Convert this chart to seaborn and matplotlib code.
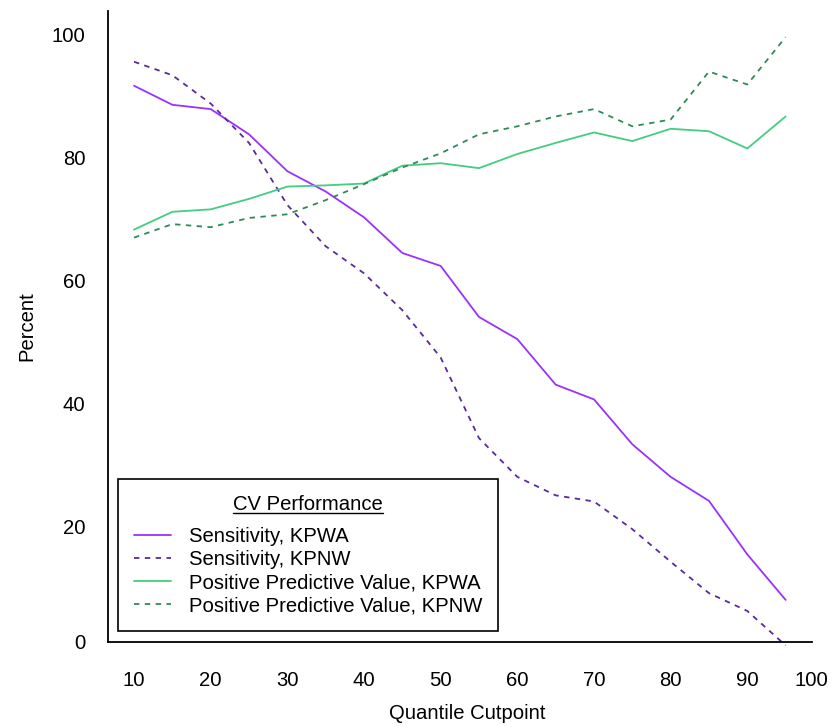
import matplotlib
matplotlib.use("Agg")
import matplotlib.pyplot as plt
import numpy as np
import pandas as pd
import seaborn as sns
from matplotlib.lines import Line2D

# ---- data ----
cutpoints = [10, 15, 20, 25, 30, 35, 40, 45, 50, 55, 60, 65, 70, 75, 80, 85, 90, 95]
sens_kpwa = [91.6, 88.5, 87.8, 83.7, 77.7, 74.4, 70.2, 64.4, 62.3, 54.0, 50.4, 43.0,
             40.6, 33.3, 28.0, 24.1, 15.4, 8.0]
sens_kpnw = [95.5, 93.3, 88.7, 82.3, 72.2, 65.5, 61.1, 55.1, 47.4, 34.3, 28.0, 25.0,
             24.0, 19.5, 14.2, 9.1, 6.2, 0.6]
ppv_kpwa = [68.2, 71.1, 71.5, 73.2, 75.2, 75.4, 75.7, 78.6, 79.0, 78.2, 80.5, 82.3,
            84.0, 82.6, 84.6, 84.2, 81.4, 86.6]
ppv_kpnw = [66.9, 69.1, 68.6, 70.1, 70.7, 73.0, 75.6, 78.3, 80.6, 83.7, 85.0, 86.6,
            87.8, 85.0, 86.1, 93.9, 91.8, 99.5]

series_names = ["Sensitivity, KPWA", "Sensitivity, KPNW",
                "Positive Predictive Value, KPWA", "Positive Predictive Value, KPNW"]
series_values = [sens_kpwa, sens_kpnw, ppv_kpwa, ppv_kpnw]
series_colors = ["#9B30FF", "#5A2A9E", "#43CD80", "#2E8B57"]
series_dashes = ["", (3, 3), "", (3, 3)]

x_tick_pos = [10, 20, 30, 40, 50, 60, 70, 80, 90, 98.4]
x_tick_labels = ["10", "20", "30", "40", "50", "60", "70", "80", "90", "100"]
y_tick_pos = [1.2, 20, 40, 60, 80, 100]
y_tick_labels = ["0", "20", "40", "60", "80", "100"]

legend_title = "CV Performance"
x_label = "Quantile Cutpoint"
y_label = "Percent"

# ---- long-form table ----
rows = []
for name, vals in zip(series_names, series_values):
    for c, v in zip(cutpoints, vals):
        rows.append({"Cutpoint": c, "Percent": v, "Series": name})
df = pd.DataFrame(rows)

sns.set_style("white")
plt.rcParams["font.family"] = ["Liberation Sans", "DejaVu Sans"]
plt.rcParams["text.color"] = "black"
plt.rcParams["axes.labelcolor"] = "black"
plt.rcParams["xtick.color"] = "black"
plt.rcParams["ytick.color"] = "black"

FS = 14.6

fig = plt.figure(figsize=(8.32, 7.27), dpi=100)
ax = fig.add_axes([0.1295, 0.1173, 0.8461, 0.868])

sns.lineplot(data=df, x="Cutpoint", y="Percent", hue="Series", style="Series",
             hue_order=series_names, style_order=series_names,
             palette=dict(zip(series_names, series_colors)),
             dashes=dict(zip(series_names, series_dashes)),
             linewidth=1.3, ax=ax)
for ln in ax.lines:
    ln.set_clip_on(False)

ax.set_xlim(6.57, 98.4)
ax.set_ylim(1.2, 103.8)
ax.set_xticks(x_tick_pos)
ax.set_xticklabels(x_tick_labels)
ax.set_yticks(y_tick_pos)
ax.set_yticklabels(y_tick_labels)

for s in ["top", "right"]:
    ax.spines[s].set_visible(False)
for s in ["left", "bottom"]:
    ax.spines[s].set_color("black")
    ax.spines[s].set_linewidth(1.3)

ax.tick_params(axis="both", direction="out", length=9, width=1.1, color="black",
               labelcolor="black", labelsize=FS)
ax.tick_params(axis="x", pad=12)
ax.tick_params(axis="y", pad=7)

ax.set_xlabel(x_label, fontsize=FS, color="black")
ax.set_ylabel(y_label, fontsize=FS, color="black")
ax.xaxis.set_label_coords(0.51, -0.114)
ax.xaxis.label.set_va("center")
ax.yaxis.set_label_coords(-0.115, 0.5)
ax.yaxis.label.set_va("center")

handles, labels = ax.get_legend_handles_labels()
if ax.legend_ is not None:
    ax.legend_.remove()
LS = 0.2
leg = ax.legend(handles, labels, title=legend_title, loc="lower left",
                bbox_to_anchor=(0.0146, 0.017), borderaxespad=0,
                frameon=True, fancybox=False, edgecolor="black", framealpha=1,
                fontsize=FS, title_fontsize=FS, handlelength=1.85,
                handletextpad=0.85, labelspacing=LS, borderpad=0.78)
leg.get_frame().set_linewidth(1.2)
for t in leg.get_texts():
    t.set_color("black")
leg.get_title().set_color("black")
for h in leg.get_lines():
    h.set_linewidth(1.3)
# extra gap between the title and the first entry
leg._legend_box.sep = LS * FS + 6.4

fig.canvas.draw()
r = fig.canvas.get_renderer()
tb = leg.get_title().get_window_extent(r)
inv = fig.transFigure.inverted()
p0 = inv.transform((tb.x0, tb.y0 + 1))
p1 = inv.transform((tb.x1, tb.y0 + 1))
fig.add_artist(Line2D([p0[0], p1[0]], [p0[1], p1[1]], color="black", lw=1.0,
                      transform=fig.transFigure))

fig.savefig("out.png", dpi=100)
